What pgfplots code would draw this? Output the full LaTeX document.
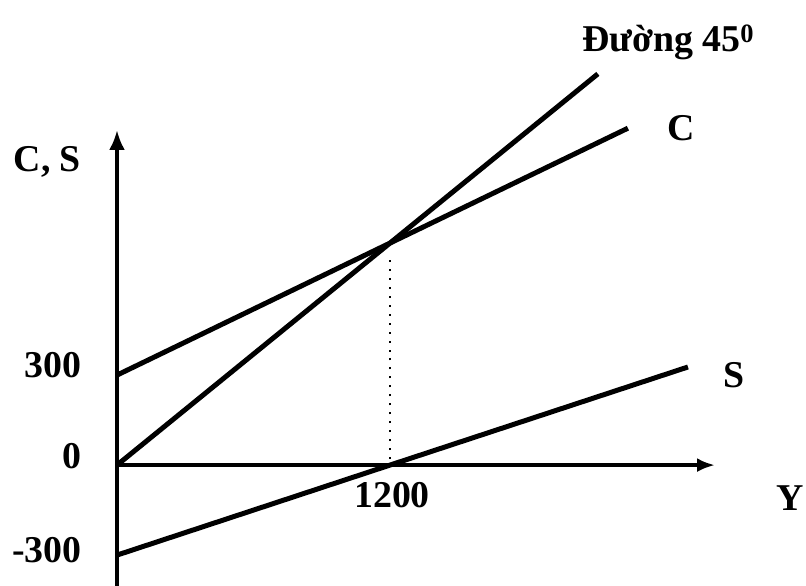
\documentclass[border=0pt]{standalone}
\usepackage{fontspec}
\setmainfont{Liberation Serif}
\usepackage{pgfplots}
\pgfplotsset{compat=1.18}
\usetikzlibrary{arrows.meta}
\begin{document}
\begin{tikzpicture}[lbl/.style={inner sep=0pt, font=\fontsize{38}{42}\selectfont\bfseries}]
\begin{axis}[
  scale only axis,
  width=598bp, height=456bp,
  xmin=0, xmax=2629, ymin=-403, ymax=1117,
  hide axis,
  clip=false,
]
% axes
\draw[line width=3.8pt, -{Latex[length=20pt,width=16pt]}] (axis cs:0,-403) -- (axis cs:0,1117);
\draw[line width=3.8pt, -{Latex[length=18pt,width=14pt]}] (axis cs:0,0) -- (axis cs:2629,0);
% 45 degree line
\addplot[black, line width=5pt] coordinates {(0,0) (1200,740) (2114,1304)};
% C
\addplot[black, line width=5pt] coordinates {(0,300) (1200,740) (2246,1123)};
% S
\addplot[black, line width=5pt] coordinates {(0,-300) (1200,0) (2510,327)};
% dotted guide
\addplot[black, line width=2pt, dash pattern=on 2pt off 7pt] coordinates {(1200,20) (1200,700)};
% labels
\node[lbl, anchor=base west] at (axis cs:-455,977) {C, S};
\node[lbl, anchor=base east] at (axis cs:-154,293) {300};
\node[lbl, anchor=base east] at (axis cs:-154,-10) {0};
\node[lbl, anchor=base east] at (axis cs:-154,-323) {-300};
\node[lbl, anchor=base] at (axis cs:1209,-143) {1200};
\node[lbl, anchor=base west] at (axis cs:2900,-150) {Y};
\node[lbl, anchor=base west] at (axis cs:2664,260) {S};
\node[lbl, anchor=base west] at (axis cs:2418,1083) {C};
\node[lbl, anchor=base west] at (axis cs:2044,1377) {Đường 45\textsuperscript{0}};
\end{axis}
\pgfresetboundingbox
\path (-117bp,0bp) rectangle (689bp,586bp);
\end{tikzpicture}
\end{document}
